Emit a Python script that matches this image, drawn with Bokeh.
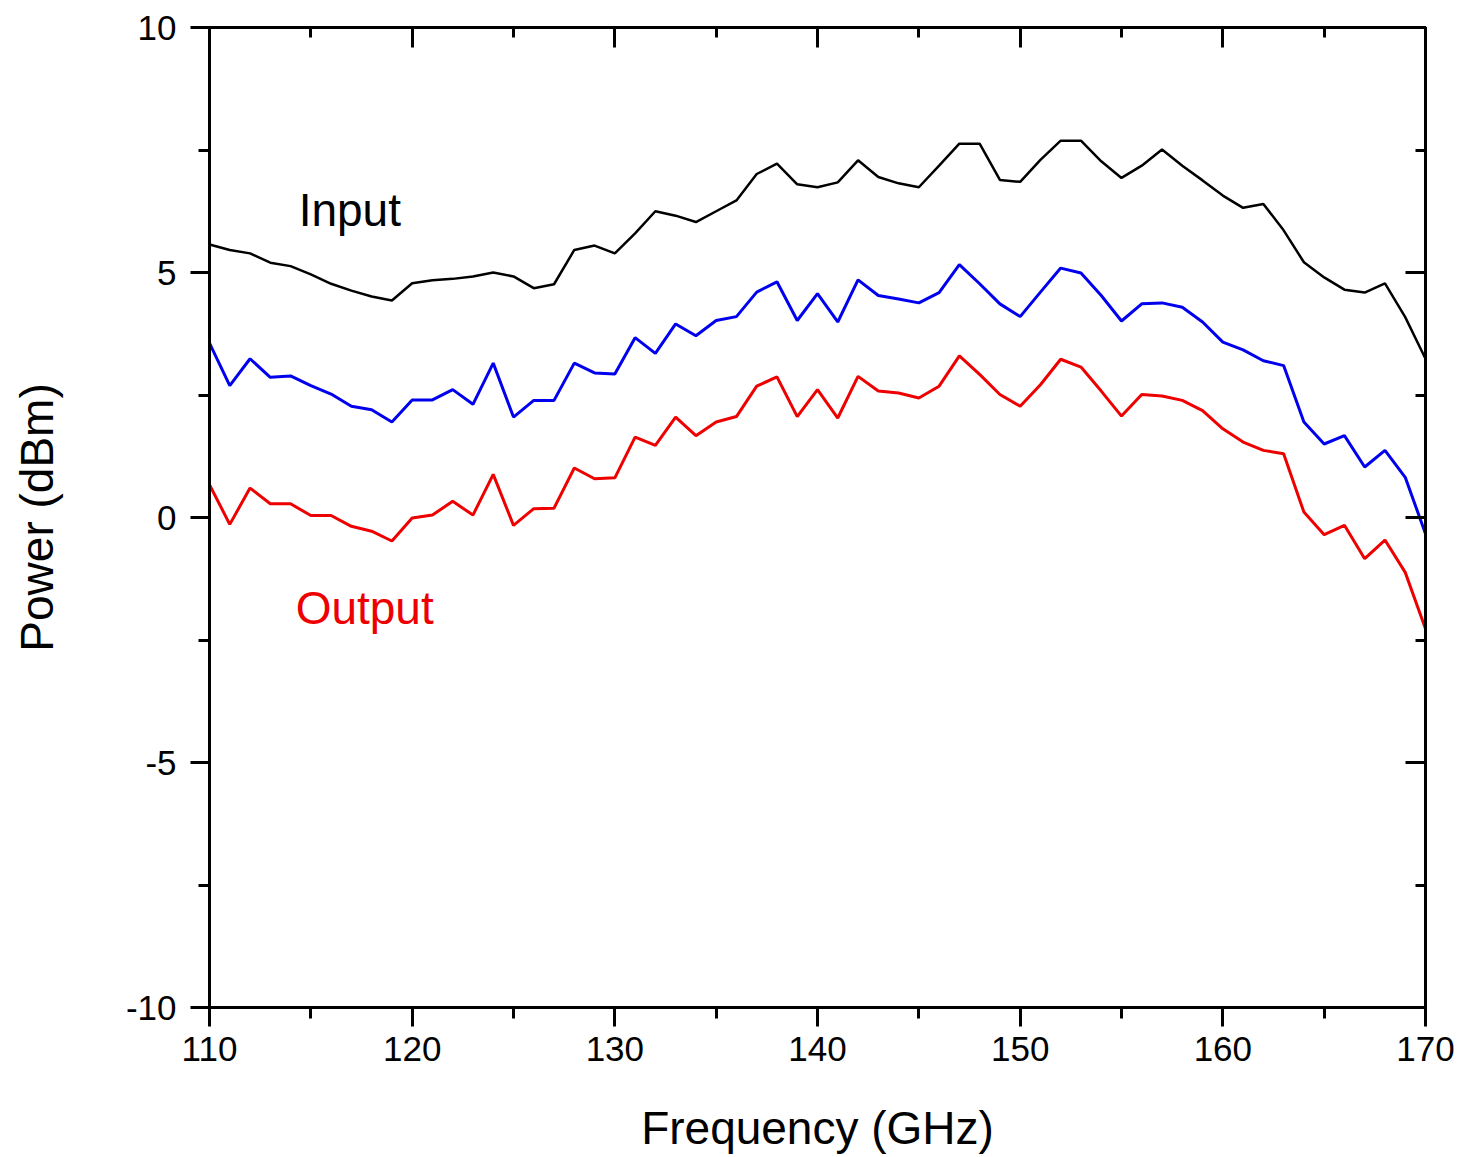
from bokeh.plotting import figure
from bokeh.models import LinearAxis, SingleIntervalTicker, Range1d, Label
from bokeh.embed import file_html
from bokeh.resources import INLINE

freq = list(range(110, 171))

input_power = [5.57, 5.46, 5.39, 5.20, 5.13, 4.96, 4.77, 4.63, 4.51, 4.43,
               4.78, 4.84, 4.87, 4.92, 5.00, 4.92, 4.68, 4.76, 5.46, 5.55,
               5.39, 5.80, 6.25, 6.16, 6.03, 6.25, 6.47, 7.01, 7.22, 6.80,
               6.74, 6.84, 7.29, 6.95, 6.82, 6.74, 7.18, 7.63, 7.63, 6.89,
               6.85, 7.30, 7.69, 7.69, 7.27, 6.93, 7.18, 7.51, 7.18, 6.88,
               6.57, 6.32, 6.40, 5.86, 5.21, 4.90, 4.65, 4.59, 4.78, 4.09,
               3.24]

blue_power = [3.56, 2.69, 3.24, 2.86, 2.89, 2.69, 2.52, 2.27, 2.20, 1.95,
              2.40, 2.40, 2.61, 2.31, 3.15, 2.05, 2.39, 2.39, 3.15, 2.95,
              2.93, 3.67, 3.35, 3.95, 3.71, 4.02, 4.10, 4.60, 4.81, 4.02,
              4.57, 3.99, 4.85, 4.53, 4.46, 4.38, 4.59, 5.16, 4.77, 4.36,
              4.10, 4.60, 5.09, 4.99, 4.53, 4.01, 4.36, 4.38, 4.29, 3.99,
              3.58, 3.42, 3.20, 3.10, 1.95, 1.50, 1.67, 1.03, 1.37, 0.82,
              -0.33]

output_power = [0.67, -0.14, 0.60, 0.28, 0.28, 0.04, 0.04, -0.18, -0.28, -0.48,
                -0.01, 0.05, 0.33, 0.05, 0.88, -0.16, 0.18, 0.19, 1.01, 0.79,
                0.81, 1.64, 1.47, 2.05, 1.67, 1.95, 2.06, 2.68, 2.87, 2.06,
                2.61, 2.03, 2.88, 2.58, 2.54, 2.44, 2.68, 3.30, 2.92, 2.51,
                2.27, 2.71, 3.23, 3.07, 2.58, 2.07, 2.51, 2.48, 2.39, 2.18,
                1.81, 1.54, 1.37, 1.30, 0.11, -0.35, -0.16, -0.84, -0.46, -1.12,
                -2.27]

y_tick_labels = {10: "10", 5: "5", 0: "0", -5: "-5", -10: "-10"}

FONT = "Liberation Sans"

p = figure(frame_width=1216, frame_height=980,
           min_border_left=209, min_border_right=39,
           min_border_top=27, min_border_bottom=150,
           output_backend="svg", toolbar_location=None,
           x_range=Range1d(110, 170), y_range=Range1d(-10, 10),
           x_axis_label="Frequency (GHz)", y_axis_label="Power (dBm)")

p.grid.visible = False
p.outline_line_color = "black"
p.outline_line_width = 3
p.background_fill_color = "white"
p.border_fill_color = "white"

xt = SingleIntervalTicker(interval=10, num_minor_ticks=2)
yt = SingleIntervalTicker(interval=5, num_minor_ticks=2)

for ax, tk in ((p.xaxis[0], xt), (p.yaxis[0], yt)):
    ax.ticker = tk
    ax.axis_line_width = 3
    ax.major_tick_line_width = 3
    ax.minor_tick_line_width = 3
    ax.major_tick_out = 19
    ax.major_tick_in = 0
    ax.minor_tick_out = 11
    ax.minor_tick_in = 0
    ax.major_label_text_font = FONT
    ax.major_label_text_font_size = "35px"
    ax.major_label_text_color = "black"
    ax.axis_label_text_font = FONT
    ax.axis_label_text_font_size = "46px"
    ax.axis_label_text_font_style = "normal"
    ax.axis_label_text_color = "black"

p.yaxis[0].major_label_overrides = y_tick_labels
p.xaxis[0].major_label_standoff = 10
p.xaxis[0].axis_label_standoff = 38
p.yaxis[0].major_label_standoff = 14
p.yaxis[0].axis_label_standoff = 60

for loc, tk in (("right", SingleIntervalTicker(interval=5, num_minor_ticks=2)),
                ("above", SingleIntervalTicker(interval=10, num_minor_ticks=2))):
    ax = LinearAxis(ticker=tk)
    ax.axis_line_width = 3
    ax.major_tick_line_width = 3
    ax.minor_tick_line_width = 3
    ax.major_tick_in = 20
    ax.major_tick_out = 0
    ax.minor_tick_in = 10
    ax.minor_tick_out = 0
    ax.major_label_text_font_size = "0px"
    ax.major_label_text_color = None
    ax.major_label_standoff = 0
    p.add_layout(ax, loc)

p.line(freq, input_power, line_color="black", line_width=2.5)
p.line(freq, blue_power, line_color="#0000ee", line_width=3)
p.line(freq, output_power, line_color="#ee0000", line_width=3)

p.add_layout(Label(x=114.4, y=6.27, text="Input", text_font=FONT,
                   text_font_size="46px", text_color="black",
                   text_baseline="middle", text_align="left"))
p.add_layout(Label(x=114.25, y=-1.84, text="Output", text_font=FONT,
                   text_font_size="46px", text_color="#ee0000",
                   text_baseline="middle", text_align="left"))

open("out.html", "w").write(file_html(p, INLINE))
